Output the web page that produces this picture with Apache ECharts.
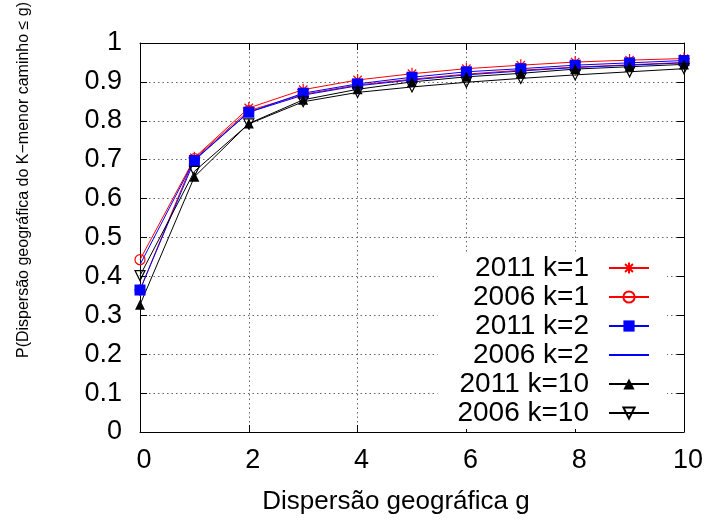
<!DOCTYPE html>
<html>
<head>
<meta charset="utf-8">
<script src="https://cdn.jsdelivr.net/npm/echarts@6/dist/echarts.min.js"></script>
<style>
html,body{margin:0;padding:0;background:#fff;}
#chart{width:706px;height:520px;}
</style>
</head>
<body>
<div id="chart"></div>
<script>
// ---- data ----
var xValues = [0, 1, 2, 3, 4, 5, 6, 7, 8, 9, 10];
var xTickLabels = ['0', '2', '4', '6', '8', '10'];
var yTickLabels = ['0', '0.1', '0.2', '0.3', '0.4', '0.5', '0.6', '0.7', '0.8', '0.9', '1'];
var seriesNames = ['2011 k=1', '2006 k=1', '2011 k=2', '2006 k=2', '2011 k=10', '2006 k=10'];
var s2011k1  = [0.365, 0.705, 0.833, 0.880, 0.905, 0.921, 0.934, 0.943, 0.951, 0.956, 0.960];
var s2006k1  = [0.443, 0.703, 0.826, 0.868, 0.892, 0.907, 0.920, 0.930, 0.938, 0.944, 0.950];
var s2011k2  = [0.365, 0.698, 0.822, 0.871, 0.895, 0.912, 0.926, 0.934, 0.943, 0.949, 0.955];
var s2006k2  = [0.430, 0.700, 0.822, 0.866, 0.890, 0.905, 0.918, 0.928, 0.937, 0.943, 0.949];
var s2011k10 = [0.327, 0.656, 0.793, 0.854, 0.881, 0.900, 0.913, 0.922, 0.933, 0.939, 0.945];
var s2006k10 = [0.402, 0.670, 0.792, 0.849, 0.873, 0.887, 0.899, 0.909, 0.918, 0.926, 0.934];
var xTitle = 'Dispersão geográfica g';
var yTitle = 'P(Dispersão geográfica do K\u2212menor caminho \u2264 g)';

// ---- presentation ----
var FONT = 'Liberation Sans, Arial, Helvetica, sans-serif';
var starPath = 'path://M0,5 L10,5 M5,0 L5,10 M1.5,1.5 L8.5,8.5 M8.5,1.5 L1.5,8.5';
var circlePath = 'path://M0,5 A5,5 0 1,1 10,5 A5,5 0 1,1 0,5 Z';
var invTriPath = 'path://M0,0 L10,0 L5,8.66 Z';
var CLEAR = 'rgba(255,255,255,0)';

function pairs(vals) {
  return xValues.map(function (x, i) { return [x, vals[i]]; });
}

function mk(name, vals, color, symbol, size, fill, bw) {
  return {
    name: name,
    type: 'line',
    data: pairs(vals),
    symbol: symbol,
    symbolSize: size,
    showSymbol: symbol !== 'none',
    animation: false,
    lineStyle: { color: color, width: 1 },
    itemStyle: { color: fill, borderColor: bw > 0 ? color : CLEAR, borderWidth: bw },
    emphasis: { disabled: true }
  };
}

var chart = echarts.init(document.getElementById('chart'), null, { renderer: 'canvas' });

var option = {
  backgroundColor: '#fff',
  animation: false,
  textStyle: { fontFamily: FONT },
  grid: { left: 140, right: 22, top: 43, bottom: 88, containLabel: false },
  legend: {
    orient: 'vertical',
    align: 'right',
    right: 39,
    top: 253,
    padding: [1, 17, 2, 20],
    backgroundColor: '#fff',
    itemWidth: 40,
    itemHeight: 14,
    itemGap: 1,
    selectedMode: false,
    data: seriesNames,
    textStyle: { fontSize: 28, fontFamily: FONT, color: '#000', lineHeight: 28, padding: [0, 15, 0, 0] }
  },
  xAxis: [{
    type: 'value',
    min: 0, max: 10, interval: 2,
    name: xTitle,
    nameLocation: 'middle',
    nameGap: 57,
    nameTextStyle: { fontSize: 26, fontFamily: FONT, color: '#000', padding: [0, 32, 0, 0] },
    axisLine: { show: true, onZero: false, lineStyle: { color: '#000', width: 1 } },
    axisTick: { show: true, inside: true, length: 7, lineStyle: { color: '#000' } },
    axisLabel: {
      fontSize: 27, fontFamily: FONT, color: '#000', margin: 15, padding: [0, 0, 0, 8],
      formatter: function (v) { var i = xTickLabels.indexOf(String(v)); return i >= 0 ? xTickLabels[i] : ''; }
    },
    splitLine: { show: true, lineStyle: { color: '#666', type: [1.5, 3], width: 1 } }
  }, {
    type: 'value', position: 'top',
    min: 0, max: 10, interval: 2,
    axisLine: { show: true, onZero: false, lineStyle: { color: '#000', width: 1 } },
    axisTick: { show: true, inside: true, length: 7, lineStyle: { color: '#000' } },
    axisLabel: { show: false },
    splitLine: { show: false }
  }],
  yAxis: [{
    type: 'value',
    min: 0, max: 1, interval: 0.1,
    axisLine: { show: true, onZero: false, lineStyle: { color: '#000', width: 1 } },
    axisTick: { show: true, inside: true, length: 7, lineStyle: { color: '#000' } },
    axisLabel: {
      fontSize: 27, fontFamily: FONT, color: '#000', margin: 18,
      formatter: function (v) { return yTickLabels[Math.round(v * 10)]; }
    },
    splitLine: { show: true, lineStyle: { color: '#666', type: [1.5, 3], width: 1 } }
  }, {
    type: 'value', position: 'right',
    min: 0, max: 1, interval: 0.1,
    axisLine: { show: true, onZero: false, lineStyle: { color: '#000', width: 1 } },
    axisTick: { show: true, inside: true, length: 7, lineStyle: { color: '#000' } },
    axisLabel: { show: false },
    splitLine: { show: false }
  }],
  graphic: [{
    type: 'text',
    x: 24, y: 180,
    rotation: Math.PI / 2,
    style: { text: yTitle, font: '16px ' + FONT, fill: '#000', align: 'center', verticalAlign: 'middle' }
  }],
  series: [
    mk(seriesNames[0], s2011k1, '#ff0000', starPath, 12, '#ff0000', 1.2),
    mk(seriesNames[1], s2006k1, '#ff0000', circlePath, 10, CLEAR, 1.2),
    mk(seriesNames[2], s2011k2, '#0000ff', 'rect', 11, '#0000ff', 0),
    mk(seriesNames[3], s2006k2, '#0000ff', 'none', 0, CLEAR, 0),
    mk(seriesNames[4], s2011k10, '#000000', 'triangle', 10, '#000000', 0),
    mk(seriesNames[5], s2006k10, '#000000', invTriPath, 10, CLEAR, 1.2)
  ]
};
chart.setOption(option);
</script>
</body>
</html>
